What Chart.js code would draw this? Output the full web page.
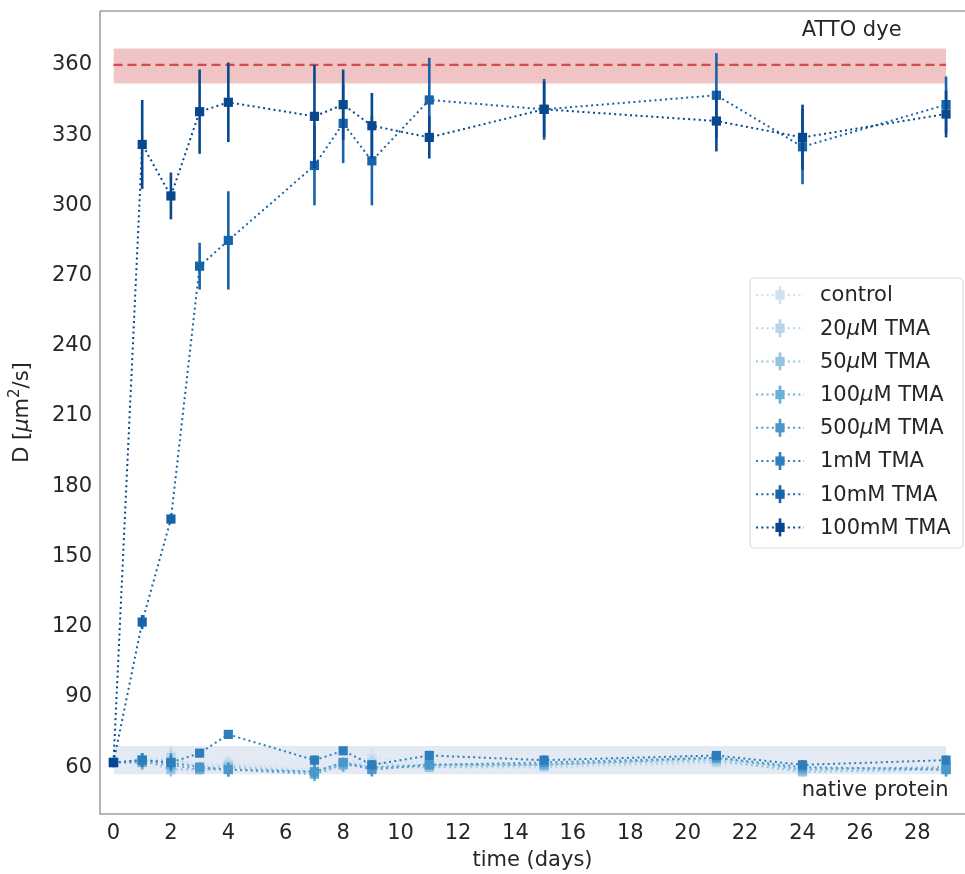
<!DOCTYPE html>
<html>
<head>
<meta charset="utf-8">
<script src="https://cdn.jsdelivr.net/npm/chart.js@4.4.0/dist/chart.umd.min.js"></script>
<style>
  html, body { margin: 0; padding: 0; background: #fff; overflow: hidden; }
  canvas { display: block; }
</style>
</head>
<body>
<canvas id="grafico" width="965" height="874"></canvas>
<script>
// datos
const dias = [0, 1, 2, 3, 4, 7, 8, 9, 11, 15, 21, 24, 29];
const nombres = ['control', '20μM TMA', '50μM TMA', '100μM TMA', '500μM TMA', '1mM TMA', '10mM TMA', '100mM TMA'];
const colores = ['#d0e1f2', '#b7d4ea', '#94c4df', '#6baed6', '#4a98c9', '#2e7ebc', '#1764ab', '#08488e'];

const control = [62, 63, 65, 60, 62, 59, 62, 64, 61, 61, 63, 60, 59];
const tma20u = [62, 62, 64, 60, 61, 58, 61, 62, 60, 60, 62, 59, 59];
const tma50u = [62, 63, 59, 59, 60, 58, 62, 60, 60, 61, 63, 58, 59];
const tma100u = [62, 62, 61, 59, 59, 57, 61, 60, 61, 61, 64, 59, 60];
const tma500u = [62, 63, 62, 60, 59, 58, 62, 59, 61, 62, 64, 60, 59];
const tma1m = [62, 63, 62, 66, 74, 63, 67, 61, 65, 63, 65, 61, 63];
const tma10m = [62, 122, 166, 274, 285, 317, 335, 319, 345, 341, 347, 325, 343];
const tma100m = [62, 326, 304, 340, 344, 338, 343, 334, 329, 341, 336, 329, 339];

const errControl = [2, 3, 4, 2, 3, 3, 2, 4, 2, 2, 2, 2, 3];
const err20u = [2, 3, 4, 2, 3, 3, 2, 3, 2, 2, 2, 2, 2];
const err50u = [2, 2, 3, 2, 2, 3, 2, 3, 2, 2, 2, 2, 2];
const err100u = [2, 3, 3, 2, 3, 3, 3, 3, 2, 2, 2, 2, 2];
const err500u = [2, 3, 4, 2, 3, 3, 2, 3, 2, 2, 2, 2, 3];
const err1m = [1, 3, 3, 1, 1, 2, 1, 2, 2, 2, 1, 2, 2];
const err10m = [1, 3, 2, 10, 21, 17, 17, 19, 18, 13, 18, 16, 12];
const err100m = [1, 19, 10, 18, 17, 22, 15, 14, 9, 12, 13, 14, 10];

const xTicks = [0, 2, 4, 6, 8, 10, 12, 14, 16, 18, 20, 22, 24, 26, 28];
const yTicks = [60, 90, 120, 150, 180, 210, 240, 270, 300, 330, 360];

const attoValor = 360;
const attoBanda = [352, 367];
const nativaBanda = [57, 69];

const series = [control, tma20u, tma50u, tma100u, tma500u, tma1m, tma10m, tma100m];
const errores = [errControl, err20u, err50u, err100u, err500u, err1m, err10m, err100m];

const fuente = '"DejaVu Sans", sans-serif';
const colorTexto = '#262626';
const limites = [dias[0], dias[dias.length - 1]];

const conjuntos = series.map((vals, i) => ({
  label: nombres[i],
  data: dias.map((d, j) => ({ x: d, y: vals[j] })),
  errores: errores[i],
  borderColor: colores[i],
  backgroundColor: colores[i],
  borderWidth: 2,
  borderDash: [2, 3.3],
  pointStyle: 'rect',
  pointRadius: 6.5,
  pointBorderWidth: 0,
  pointBackgroundColor: colores[i],
  tension: 0,
  fill: false,
  order: 8 - i
}));

// bandas y linea de referencia
conjuntos.push(
  { label: 'nb1', data: limites.map(d => ({ x: d, y: nativaBanda[0] })), borderWidth: 0, pointRadius: 0, fill: false, order: 30 },
  { label: 'nb2', data: limites.map(d => ({ x: d, y: nativaBanda[1] })), borderWidth: 0, pointRadius: 0, fill: '-1', backgroundColor: 'rgba(76,114,176,0.15)', order: 30 },
  { label: 'ab1', data: limites.map(d => ({ x: d, y: attoBanda[0] })), borderWidth: 0, pointRadius: 0, fill: false, order: 30 },
  { label: 'ab2', data: limites.map(d => ({ x: d, y: attoBanda[1] })), borderWidth: 0, pointRadius: 0, fill: '-1', backgroundColor: 'rgba(205,60,60,0.3)', order: 30 },
  { label: 'atto', data: limites.map(d => ({ x: d, y: attoValor })), borderColor: '#d24a4e', borderWidth: 2.2, borderDash: [9, 5], pointRadius: 0, fill: false, order: 20 }
);

// escribe texto con la letra μ en cursiva (como mathtext)
function textoMixto(ctx, partes, x, y, centrar) {
  let ancho = 0;
  partes.forEach(p => { ctx.font = p.font; ancho += ctx.measureText(p.t).width; });
  let cx = centrar ? x - ancho / 2 : x;
  partes.forEach(p => {
    ctx.font = p.font;
    ctx.fillText(p.t, cx, y + (p.dy || 0));
    cx += ctx.measureText(p.t).width;
  });
}

function partirMu(texto) {
  const trozos = texto.split('μ');
  const partes = [];
  trozos.forEach((t, i) => {
    if (i > 0) partes.push({ t: 'μ', font: 'italic 21px ' + fuente });
    if (t) partes.push({ t: t, font: '21px ' + fuente });
  });
  return partes;
}

const barrasError = {
  id: 'barrasError',
  beforeDatasetDraw(chart, args) {
    const ds = chart.data.datasets[args.index];
    if (!ds.errores) return;
    const { ctx, chartArea, scales: { x, y } } = chart;
    ctx.save();
    ctx.beginPath();
    ctx.rect(chartArea.left, chartArea.top, chartArea.right - chartArea.left, chartArea.bottom - chartArea.top);
    ctx.clip();
    ctx.strokeStyle = ds.borderColor;
    ctx.lineWidth = 2.6;
    ds.data.forEach((p, i) => {
      const px = x.getPixelForValue(p.x);
      ctx.beginPath();
      ctx.moveTo(px, y.getPixelForValue(p.y - ds.errores[i]));
      ctx.lineTo(px, y.getPixelForValue(p.y + ds.errores[i]));
      ctx.stroke();
    });
    ctx.restore();
  }
};

// marco: solo izquierda, arriba y abajo (el borde derecho queda fuera de la imagen)
const marcoYTextos = {
  id: 'marcoYTextos',
  afterDatasetsDraw(chart) {
    const { ctx, chartArea: a, scales: { x, y } } = chart;
    ctx.save();
    ctx.strokeStyle = '#a0a0a0';
    ctx.lineWidth = 1.6;
    ctx.beginPath();
    ctx.moveTo(a.left, a.top);
    ctx.lineTo(a.right, a.top);
    ctx.moveTo(a.left, a.top);
    ctx.lineTo(a.left, a.bottom);
    ctx.lineTo(a.right, a.bottom);
    ctx.stroke();
    ctx.font = '21px ' + fuente;
    ctx.fillStyle = colorTexto;
    ctx.textAlign = 'left';
    ctx.textBaseline = 'middle';
    ctx.fillText('ATTO dye', x.getPixelForValue(23.97), y.getPixelForValue(374.5));
    ctx.fillText('native protein', x.getPixelForValue(23.97), y.getPixelForValue(50));

    ctx.translate(23, (a.top + a.bottom) / 2);
    ctx.rotate(-Math.PI / 2);
    textoMixto(ctx, [
      { t: 'D [', font: '21px ' + fuente },
      { t: 'μ', font: 'italic 21px ' + fuente },
      { t: 'm', font: '21px ' + fuente },
      { t: '2', font: '15px ' + fuente, dy: -8 },
      { t: '/s]', font: '21px ' + fuente }
    ], 0, 0, true);
    ctx.restore();
  }
};

const leyenda = {
  id: 'leyenda',
  afterDraw(chart) {
    const ctx = chart.ctx;
    const x0 = 750, y0 = 278, w = 213, h = 270, paso = 33.2;
    ctx.save();
    ctx.fillStyle = 'rgba(255,255,255,0.85)';
    ctx.strokeStyle = '#dcdcdc';
    ctx.lineWidth = 1.2;
    ctx.beginPath();
    ctx.roundRect(x0, y0, w, h, 4);
    ctx.fill();
    ctx.stroke();
    ctx.textBaseline = 'middle';
    ctx.textAlign = 'left';
    nombres.forEach((n, i) => {
      const cy = y0 + 17 + i * paso;
      ctx.strokeStyle = colores[i];
      ctx.lineWidth = 2;
      ctx.setLineDash([2, 3.3]);
      ctx.beginPath();
      ctx.moveTo(756, cy);
      ctx.lineTo(804, cy);
      ctx.stroke();
      ctx.setLineDash([]);
      ctx.lineWidth = 2.6;
      ctx.beginPath();
      ctx.moveTo(780, cy - 9);
      ctx.lineTo(780, cy + 9);
      ctx.stroke();
      ctx.fillStyle = colores[i];
      ctx.fillRect(780 - 4.6, cy - 4.6, 9.2, 9.2);
      ctx.fillStyle = colorTexto;
      textoMixto(ctx, partirMu(n), 820, cy + 1, false);
    });
    ctx.restore();
  }
};

Chart.defaults.font.family = fuente;
Chart.defaults.font.size = 21;
Chart.defaults.color = colorTexto;

new Chart(document.getElementById('grafico').getContext('2d'), {
  type: 'line',
  data: { datasets: conjuntos },
  options: {
    responsive: false,
    animation: false,
    events: [],
    layout: { autoPadding: false, padding: { top: 11, right: 0, bottom: 0, left: 0 } },
    plugins: {
      legend: { display: false },
      tooltip: { enabled: false }
    },
    scales: {
      x: {
        type: 'linear',
        min: -0.47,
        max: 29.66,
        grid: { display: false, drawTicks: false, tickLength: 0 },
        border: { display: false },
        ticks: { padding: 7, color: colorTexto, font: { size: 21 } },
        afterBuildTicks: s => { s.ticks = xTicks.map(v => ({ value: v })); },
        afterFit: s => { s.height = 60; s.paddingLeft = 0; s.paddingRight = 0; },
        title: { display: true, text: 'time (days)', color: colorTexto, font: { size: 21 }, padding: { top: 0, bottom: 1 } }
      },
      y: {
        type: 'linear',
        min: 40,
        max: 383,
        grid: { display: false, drawTicks: false, tickLength: 0 },
        border: { display: false },
        ticks: { padding: 8, color: colorTexto, font: { size: 21 } },
        afterBuildTicks: s => { s.ticks = yTicks.map(v => ({ value: v })); },
        afterFit: s => { s.width = 100; s.paddingTop = 0; s.paddingBottom = 0; },
        title: { display: false }
      }
    }
  },
  plugins: [barrasError, marcoYTextos, leyenda]
});
</script>
</body>
</html>
